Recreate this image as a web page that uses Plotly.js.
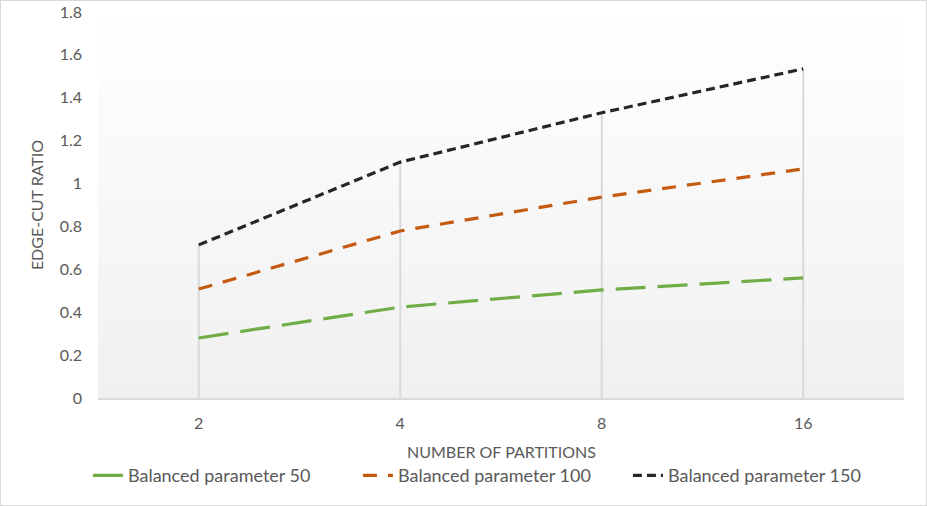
<!DOCTYPE html>
<html>
<head>
<meta charset="utf-8">
<script src="https://cdn.plot.ly/plotly-3.0.1.min.js"></script>
<style>
  html, body { margin: 0; padding: 0; background: #fff; }
  #chart { width: 925px; height: 504px; border: 1px solid #d9d9d9; }
</style>
</head>
<body>
<div id="chart"></div>
<script>
// categories on the x axis
const partitions = ['2', '4', '8', '16'];

// series values
const balanced50 = [0.28, 0.424, 0.504, 0.56];
const balanced100 = [0.508, 0.779, 0.937, 1.068];
const balanced150 = [0.714, 1.10, 1.33, 1.535];

const seriesNames = ['Balanced parameter 50', 'Balanced parameter 100', 'Balanced parameter 150'];
const yTicks = [0, 0.2, 0.4, 0.6, 0.8, 1, 1.2, 1.4, 1.6, 1.8];

const font = 'Lato, "Open Sans", sans-serif';
const textColor = '#595959';

const traces = [
    { y: balanced50, color: '#70ad47', dash: '30px,12px' },
    { y: balanced100, color: '#c55a11', dash: '14px,11px' },
    { y: balanced150, color: '#262626', dash: '9px,5px' }
].map((s, i) => ({
    x: partitions,
    y: s.y,
    name: seriesNames[i],
    type: 'scatter',
    mode: 'lines',
    line: { color: s.color, width: 3.2, dash: s.dash },
    hoverinfo: 'x+y'
}));

// drop lines from the highest series down to the axis (index on the category axis)
const dropLines = partitions.map((p, i) => ({
    type: 'line',
    xref: 'x', yref: 'y',
    x0: i, x1: i,
    y0: 0,
    y1: Math.max(balanced50[i], balanced100[i], balanced150[i]),
    line: { color: '#d9d9d9', width: 2 },
    layer: 'below'
}));

// plot area gradient (white at top to light grey at bottom)
const gradSvg = '<svg xmlns="http://www.w3.org/2000/svg" width="100" height="100" preserveAspectRatio="none">' +
    '<defs><linearGradient id="g" x1="0" y1="0" x2="0" y2="1">' +
    '<stop offset="0" stop-color="#ffffff"/><stop offset="1" stop-color="#f0f0f0"/>' +
    '</linearGradient></defs><rect width="100" height="100" fill="url(#g)"/></svg>';

const layout = {
    width: 925,
    height: 504,
    margin: { l: 97, r: 22, t: 11, b: 107 },
    paper_bgcolor: '#ffffff',
    plot_bgcolor: 'rgba(0,0,0,0)',
    font: { family: font, size: 16, color: textColor },
    showlegend: true,
    legend: {
        orientation: 'h',
        x: 0.49, xanchor: 'center',
        yref: 'container',
        y: 0.058, yanchor: 'middle',
        font: { family: font, size: 18, color: textColor },
        entrywidth: 225,
        tracegroupgap: 0
    },
    xaxis: {
        type: 'category',
        range: [-0.5, 3.5],
        automargin: false,
        showgrid: false,
        zeroline: false,
        showline: true,
        linecolor: '#d9d9d9',
        linewidth: 2,
        ticks: '',
        ticklabelstandoff: 10,
        tickfont: { family: font, size: 16, color: textColor }
    },
    yaxis: {
        range: [0, 1.8],
        automargin: 'left',
        tickvals: yTicks,
        ticktext: yTicks.map(v => String(v)),
        showgrid: false,
        zeroline: false,
        showline: false,
        ticks: '',
        ticklabelstandoff: 15,
        tickfont: { family: font, size: 16, color: textColor },
        title: { text: 'EDGE-CUT RATIO', font: { family: font, size: 16, color: textColor }, standoff: 12 }
    },
    annotations: [{
        text: 'NUMBER OF PARTITIONS',
        xref: 'paper', yref: 'paper',
        x: 0.5, y: 0,
        xanchor: 'center', yanchor: 'middle',
        yshift: -53,
        showarrow: false,
        font: { family: font, size: 16, color: textColor }
    }],
    shapes: dropLines,
    images: [{
        source: 'data:image/svg+xml;charset=utf-8,' + encodeURIComponent(gradSvg),
        xref: 'paper', yref: 'paper',
        x: 0, y: 1, sizex: 1, sizey: 1,
        xanchor: 'left', yanchor: 'top',
        sizing: 'stretch',
        layer: 'below'
    }]
};

Plotly.newPlot('chart', traces, layout, { displayModeBar: false, staticPlot: true });
</script>
</body>
</html>
